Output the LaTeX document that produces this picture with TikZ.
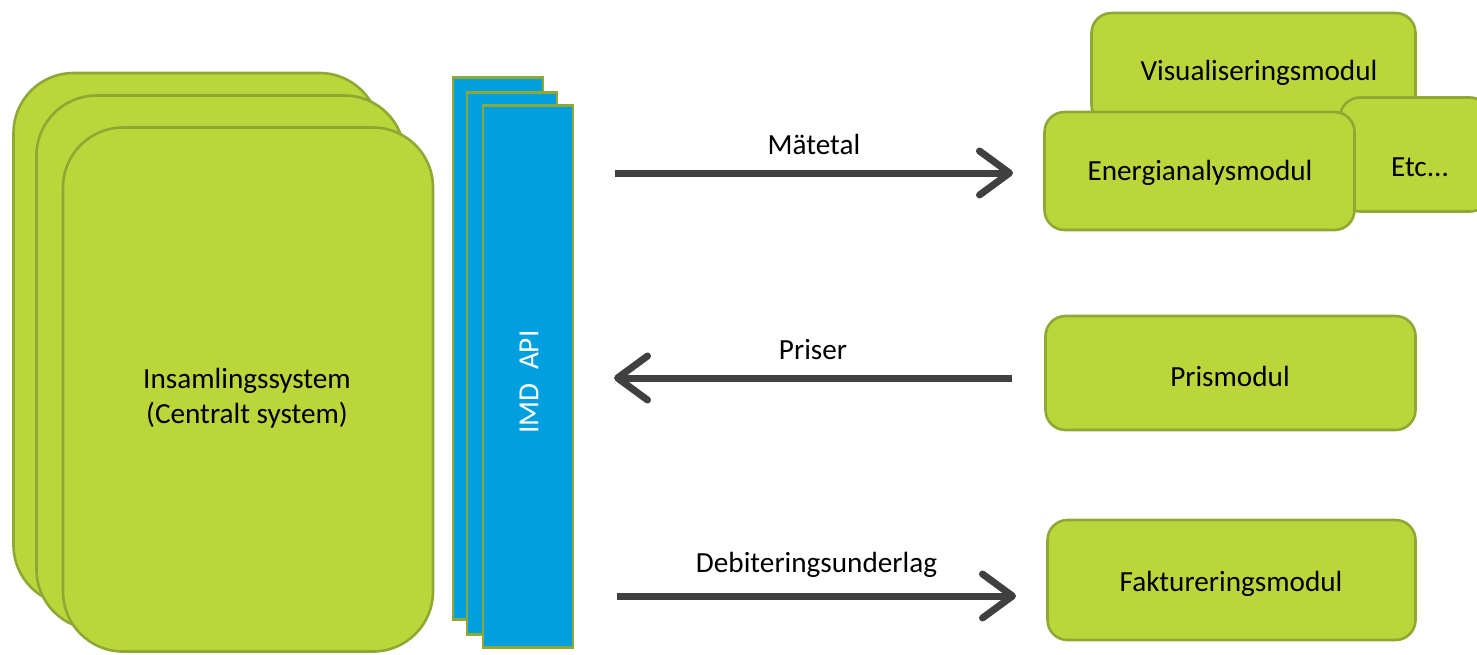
\documentclass[tikz,border=0pt]{standalone}
\usepackage{fontspec}
\setmainfont{Carlito}
\usetikzlibrary{arrows.meta}
\definecolor{modgreen}{RGB}{187,214,59}
\definecolor{modedge}{RGB}{143,168,52}
\definecolor{apiblue}{RGB}{0,159,224}
\definecolor{flowgray}{RGB}{64,64,64}
\begin{document}
\begin{tikzpicture}[x=0.5pt,y=-0.5pt,font=\fontsize{14.6}{17.5}\selectfont]
	\tikzstyle{card}=[rectangle,rounded corners=30pt,draw=modedge,line width=1.3pt,fill=modgreen,align=center]
	\tikzstyle{module}=[rectangle,rounded corners=10pt,draw=modedge,line width=1.3pt,fill=modgreen,align=center]
	\tikzstyle{api}=[rectangle,draw=modedge,line width=1.3pt,fill=apiblue,minimum width=45pt,minimum height=271pt]
	\tikzstyle{flow}=[draw=flowgray,line width=3.5pt,-{Straight Barb[length=15pt,width=22pt,round]}]
	\useasboundingbox (0,0) rectangle (1477,654);
	\begin{scope}
		% central system stack
		\node [card,minimum width=183pt,minimum height=266pt] (sys3) at (196.5,339) {};
		\node [card,minimum width=184pt,minimum height=267pt] (sys2) at (220.5,362.5) {};
		\node [card,minimum width=185pt,minimum height=262pt] (sys1) at (248,389.5) {};
		\node [align=center] (syslabel) at (247,398) {Insamlingssystem\\(Centralt system)};

		% api stack
		\node [api] (api3) at (498,348.5) {};
		\node [api] (api2) at (512,363.5) {};
		\node [api] (api1) at (528,376.5) {};
		\node [text=white,rotate=90] (apilabel) at (529,382) {IMD\ \ API};

		% modules
		\node [module,minimum width=162pt,minimum height=56pt] (visual) at (1253.5,69) {};
		\node (visuallabel) at (1259,73) {Visualiseringsmodul};
		\node [module,minimum width=75pt,minimum height=57pt] (etc) at (1415,154.5) {};
		\node (etclabel) at (1420,167) {Etc...};
		\node [module,minimum width=155pt,minimum height=59pt] (energi) at (1199.5,171) {};
		\node (energilabel) at (1200,173) {Energianalysmodul};
		\node [module,minimum width=185pt,minimum height=57pt] (pris) at (1230.5,373) {};
		\node (prislabel) at (1230,376) {Prismodul};
		\node [module,minimum width=184pt,minimum height=60pt] (faktura) at (1231.5,580) {};
		\node (fakturalabel) at (1231,584) {Faktureringsmodul};

		\coordinate (m1) at (615,173);
		\coordinate (m2) at (1013,173);
		\coordinate (p1) at (1012,378);
		\coordinate (p2) at (614,378);
		\coordinate (d1) at (617,596);
		\coordinate (d2) at (1016,596);

		\path[flow] (m1) -- node[above=4pt,text=black] {Mätetal} (m2);
		\path[flow] (p1) -- node[above=4pt,text=black] {Priser} (p2);
		\path[flow] (d1) -- node[above=4pt,text=black] {Debiteringsunderlag} (d2);
	\end{scope}
\end{tikzpicture}
\end{document}
